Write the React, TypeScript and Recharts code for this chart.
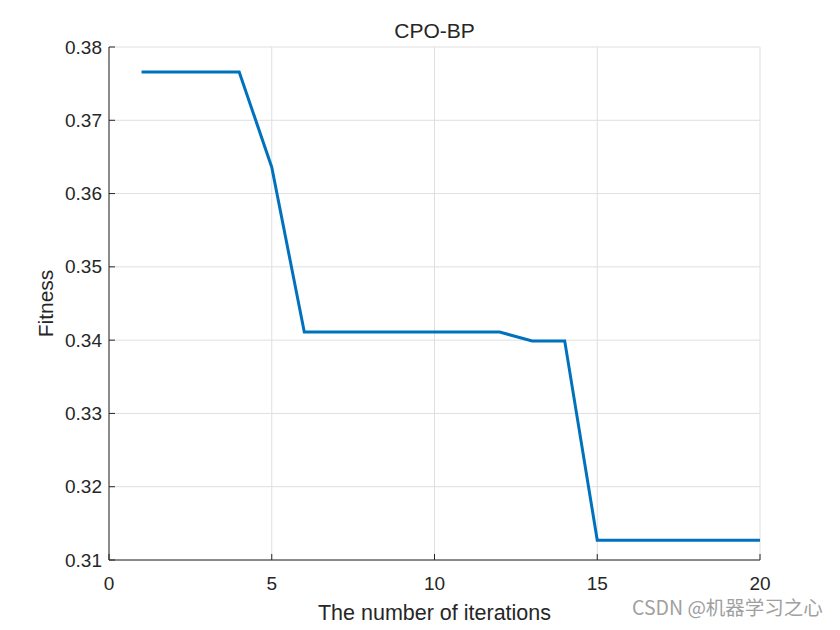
import { LineChart, Line, XAxis, YAxis, CartesianGrid } from 'recharts'

const iterations = [1, 2, 3, 4, 5, 6, 7, 8, 9, 10, 11, 12, 13, 14, 15, 16, 17, 18, 19, 20]
const fitness = [
  0.3766, 0.3766, 0.3766, 0.3766, 0.3636, 0.3411, 0.3411, 0.3411, 0.3411, 0.3411,
  0.3411, 0.3411, 0.3399, 0.3399, 0.3127, 0.3127, 0.3127, 0.3127, 0.3127, 0.3127,
]
const xTicks = [0, 5, 10, 15, 20]
const yTicks = [0.31, 0.32, 0.33, 0.34, 0.35, 0.36, 0.37, 0.38]

const data = iterations.map((it, i) => ({ it, f: fitness[i] }))

const ink = '#262626'
const font = '"Liberation Sans", Arial, sans-serif'
const T = 6

const BottomTick = ({ x, y, payload }: any) => (
  <g>
    <line x1={x} y1={y} x2={x} y2={y - T} stroke={ink} />
    <text x={x} y={y + 23} textAnchor="middle" dominantBaseline="central" fill={ink} fontSize={19} fontFamily={font}>
      {payload.value}
    </text>
  </g>
)

const LeftTick = ({ x, y, payload }: any) => (
  <g>
    <line x1={x} y1={y} x2={x + T} y2={y} stroke={ink} />
    <text x={x - 7} y={y} textAnchor="end" dominantBaseline="central" fill={ink} fontSize={19} fontFamily={font}>
      {Number(payload.value).toFixed(2)}
    </text>
  </g>
)

const TopTick = ({ x, y }: any) => <line x1={x} y1={y} x2={x} y2={y + T} stroke={ink} />
const RightTick = ({ x, y }: any) => <line x1={x} y1={y} x2={x - T} y2={y} stroke={ink} />

export default function App() {
  return (
    <div style={{ position: 'absolute', left: 0, top: 0, width: 840, height: 630, background: '#fff' }}>
      <LineChart width={840} height={630} data={data} margin={{ top: 47, right: 80, bottom: 0, left: 0 }}>
        <CartesianGrid xAxisId="b" yAxisId="l" stroke="#dfdfdf" />
        <XAxis
          xAxisId="b"
          dataKey="it"
          type="number"
          domain={[0, 20]}
          ticks={xTicks}
          height={70}
          tickSize={0}
          tickMargin={0}
          tick={<BottomTick />}
          axisLine={{ stroke: ink }}
          label={{ value: 'The number of iterations', position: 'insideBottom', offset: 10, fill: ink, fontSize: 21.5, fontFamily: font }}
        />
        <XAxis
          xAxisId="t"
          orientation="top"
          dataKey="it"
          type="number"
          domain={[0, 20]}
          ticks={xTicks}
          height={0}
          tickSize={0}
          tickMargin={0}
          tick={<TopTick />}
          axisLine={{ stroke: ink }}
        />
        <YAxis
          yAxisId="l"
          type="number"
          domain={[0.31, 0.38]}
          ticks={yTicks}
          width={109}
          tickSize={0}
          tickMargin={0}
          tick={<LeftTick />}
          axisLine={{ stroke: ink }}
          label={{ value: 'Fitness', angle: -90, position: 'insideLeft', offset: 46, fill: ink, fontSize: 21, fontFamily: font, style: { textAnchor: 'middle' } }}
        />
        <YAxis
          yAxisId="r"
          orientation="right"
          type="number"
          domain={[0.31, 0.38]}
          ticks={yTicks}
          width={0}
          tickSize={0}
          tickMargin={0}
          tick={<RightTick />}
          axisLine={{ stroke: ink }}
        />
        <Line
          xAxisId="b"
          yAxisId="l"
          type="linear"
          dataKey="f"
          stroke="#0072BD"
          strokeWidth={3}
          dot={false}
          isAnimationActive={false}
        />
      </LineChart>
      <div
        style={{
          position: 'absolute',
          left: 334.5,
          width: 200,
          top: 18,
          textAlign: 'center',
          fontFamily: font,
          fontSize: 21,
          lineHeight: '26px',
          color: ink,
        }}
      >
        CPO-BP
      </div>
      <div
        style={{
          position: 'absolute',
          left: 632,
          top: 595,
          fontFamily: '"Noto Sans CJK SC", "Liberation Sans", sans-serif',
          fontSize: 19.5,
          lineHeight: '24px',
          color: '#a0a0a0',
          whiteSpace: 'nowrap',
        }}
      >
        CSDN @机器学习之心
      </div>
    </div>
  )
}
